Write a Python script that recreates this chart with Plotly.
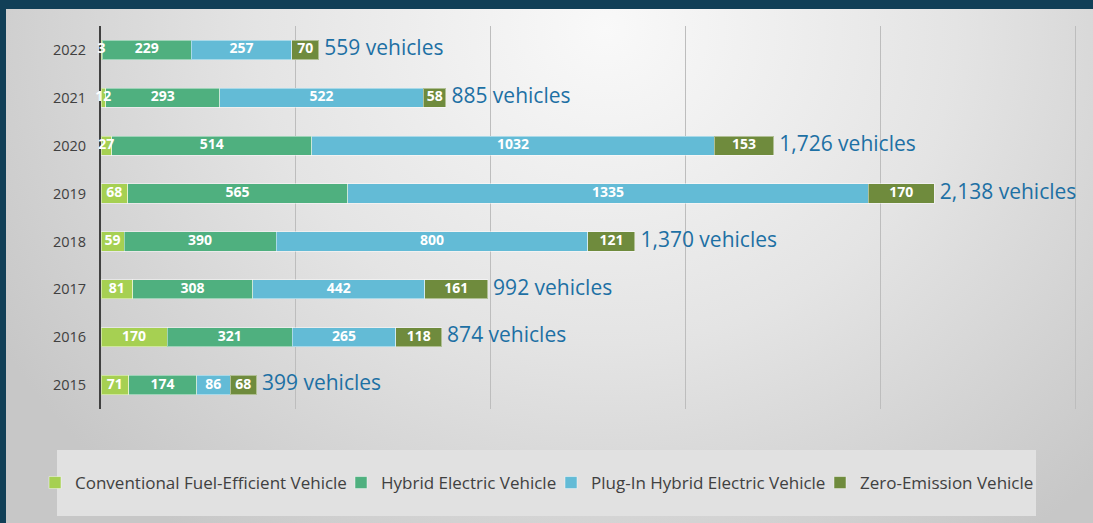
import base64
import plotly.graph_objects as go

years = ["2015", "2016", "2017", "2018", "2019", "2020", "2021", "2022"]
conventional = [71, 170, 81, 59, 68, 27, 12, 3]
hybrid = [174, 321, 308, 390, 565, 514, 293, 229]
plugin = [86, 265, 442, 800, 1335, 1032, 522, 257]
zev = [68, 118, 161, 121, 170, 153, 58, 70]
series_names = ["Conventional Fuel-Efficient Vehicle", "Hybrid Electric Vehicle",
                "Plug-In Hybrid Electric Vehicle", "Zero-Emission Vehicle"]
series_colors = ["#a6d052", "#4fb07f", "#63bbd6", "#6f8b3d"]
legend_widths = [261, 165, 224, 175]
totals = [a + b + c + d for a, b, c, d in zip(conventional, hybrid, plugin, zev)]
total_labels = [" {:,} vehicles".format(t) for t in totals]

W, H = 1093, 523
L, R, T, B = 101, 16, 26, 114
pw, ph = W - L - R, H - T - B

def px_x(px):
    return (px - L) / pw

def px_y(py):
    return (H - B - py) / ph

fig = go.Figure()
all_series = [conventional, hybrid, plugin, zev]
for name, vals, col, lw in zip(series_names, all_series, series_colors, legend_widths):
    fig.add_trace(go.Bar(
        y=years, x=vals, name=name, orientation="h", legendwidth=lw,
        marker=dict(color=col, line=dict(color="rgba(255,255,255,0.45)", width=1)),
        textposition="none", hoverinfo="skip",
    ))

# segment value labels, centred in each stacked segment
lab_x, lab_y, lab_t = [], [], []
base = [0] * len(years)
for vals in all_series:
    for i, v in enumerate(vals):
        lab_x.append(base[i] + v / 2)
        lab_y.append(years[i])
        lab_t.append(str(v))
        base[i] += v
fig.add_trace(go.Scatter(
    x=lab_x, y=lab_y, mode="text", text=lab_t, textposition="middle center",
    textfont=dict(family="Open Sans", size=14, color="white", weight="bold"),
    showlegend=False, hoverinfo="skip", cliponaxis=False,
))

fig.add_trace(go.Scatter(
    y=years, x=totals, mode="text", text=total_labels, textposition="middle right",
    textfont=dict(family="Open Sans", size=21, color="#1d70a4"),
    showlegend=False, hoverinfo="skip", cliponaxis=False,
))

svg = '''<svg xmlns="http://www.w3.org/2000/svg" width="1087" height="514" viewBox="0 0 1087 514" preserveAspectRatio="none">
<defs><radialGradient id="g" gradientUnits="userSpaceOnUse" cx="600" cy="20" r="700" gradientTransform="translate(600 20) scale(1 0.9) translate(-600 -20)">
<stop offset="0" stop-color="#f9f9f9"/><stop offset="0.5" stop-color="#e4e4e4"/><stop offset="1" stop-color="#c7c7c7"/></radialGradient></defs>
<rect width="1087" height="514" fill="url(#g)"/></svg>'''
src = "data:image/svg+xml;base64," + base64.b64encode(svg.encode()).decode()

fig.add_layout_image(dict(
    source=src, xref="paper", yref="paper", x=px_x(6), y=px_y(9),
    sizex=(W - 6) / pw, sizey=(H - 9) / ph, xanchor="left", yanchor="top",
    sizing="stretch", layer="below", opacity=1,
))

fig.add_shape(type="rect", xref="paper", yref="paper",
              x0=px_x(57), x1=px_x(1036), y0=px_y(516), y1=px_y(450),
              fillcolor="#e1e1e1", line=dict(width=0), layer="below")

fig.update_layout(
    width=W, height=H,
    margin=dict(l=L, r=R, t=T, b=B, pad=0),
    paper_bgcolor="#113f57", plot_bgcolor="rgba(0,0,0,0)",
    barmode="stack", bargap=0.6,
    font=dict(family="Open Sans", color="#404040"),
    legend=dict(orientation="h", x=px_x(35), xanchor="left", y=px_y(483), yanchor="middle",
                font=dict(size=17, color="#404040"), bgcolor="rgba(0,0,0,0)",
                entrywidthmode="pixels",
                traceorder="normal", itemclick=False, tracegroupgap=0),
    showlegend=True,
)
fig.update_xaxes(range=[0, 2504], tick0=0, dtick=500, showgrid=True, gridcolor="#bdbdbd", gridwidth=1,
                 showticklabels=False, zeroline=False, showline=False, fixedrange=True)
fig.update_yaxes(type="category", showline=True, linecolor="#404040", linewidth=2,
                 layer="below traces",
                 ticks="outside", ticklen=10, tickcolor="rgba(0,0,0,0)",
                 tickfont=dict(size=14.5, color="#404040"), showgrid=False, fixedrange=True)

fig.write_html("out.html", config={"displayModeBar": False},
               post_script="document.body.style.margin='0';document.body.style.overflow='hidden';")
